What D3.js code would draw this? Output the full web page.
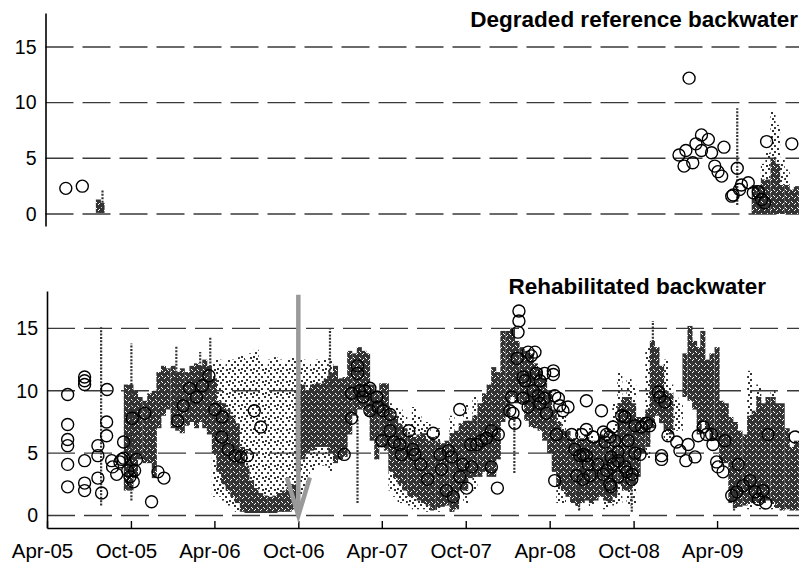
<!DOCTYPE html>
<html>
<head>
<meta charset="utf-8">
<script src="https://cdn.jsdelivr.net/npm/d3@7"></script>
<style>
  body { margin: 0; background: #fff; }
  svg { display: block; font-family: Arial, "Liberation Sans", sans-serif; }
</style>
</head>
<body>
<div id="chart"></div>
<script>
// ---- data ----
const yTicks = [0, 5, 10, 15];
const xTicks = ["2005-04-01", "2005-10-01", "2006-04-01", "2006-10-01", "2007-04-01",
                "2007-10-01", "2008-04-01", "2008-10-01", "2009-04-01"];

// discrete samples (open circles), [date, value]
const refCircles = [
  ["2005-05-12",2.3],["2005-06-17",2.5],
  ["2009-01-30",12.2],["2009-01-08",5.3],["2009-01-19",4.3],["2009-01-23",5.7],["2009-02-07",4.6],
  ["2009-02-14",6.3],["2009-02-26",7.1],["2009-03-13",6.7],["2009-02-26",5.7],["2009-03-20",5.5],
  ["2009-04-16",6.0],["2009-03-27",4.3],["2009-04-03",3.8],["2009-04-11",3.4],["2009-05-15",4.1],
  ["2009-05-03",1.6],["2009-05-06",1.7],["2009-05-20",2.2],["2009-05-24",2.6],["2009-06-08",2.8],
  ["2009-06-19",1.9],["2009-06-30",2.0],["2009-07-07",1.3],["2009-07-14",1.0],["2009-07-18",6.5],
  ["2009-09-11",6.3]
];

// continuous logger, dense parts: [date, low, high] per ~10 day window
const refLogger = [
  ["2005-07-22",0.1,1.3],["2005-07-30",0.1,1.0],
  ["2009-06-21",0,2.6],["2009-07-01",0,2.6],["2009-07-11",0,3.1],["2009-07-21",0,3.1],
  ["2009-08-01",0,5.0],["2009-08-11",0,4.5],["2009-08-21",0,2.6],["2009-09-01",0,2.6],
  ["2009-09-11",0,2.2],["2009-09-21",0,2.5]
];
// logger, scattered parts
const refSparse = [
  ["2009-07-11",2.5,4.5],["2009-07-21",2.5,5.5],["2009-08-01",4.5,9.2],["2009-08-11",4.0,8.0],
  ["2009-08-21",2.5,5.0],["2009-09-01",2.5,4.0]
];
// logger, single-day columns
const refSpikes = [
  ["2005-07-31",0.1,2.2],["2009-05-15",0.8,9.5]
];

const rehabCircles = [
  ["2005-05-16",9.7],["2005-05-16",7.3],["2005-05-16",6.1],["2005-05-16",5.6],["2005-05-16",4.1],["2005-05-16",2.3],
  ["2005-06-22",11.1],["2005-06-22",10.8],["2005-06-22",10.5],["2005-06-22",4.4],["2005-06-22",2.6],["2005-06-22",2.0],
  ["2005-07-21",5.6],["2005-07-21",4.8],["2005-07-21",3.0],["2005-07-29",1.8],
  ["2005-08-10",10.1],["2005-08-09",7.5],["2005-08-09",6.4],
  ["2005-08-20",4.4],["2005-08-22",3.9],["2005-08-31",3.3],["2005-09-07",4.3],["2005-09-11",4.5],["2005-09-15",4.6],
  ["2005-09-15",5.9],["2005-09-24",3.6],["2005-09-29",3.1],["2005-10-06",2.7],["2005-10-09",3.6],["2005-10-13",4.5],
  ["2005-10-04",7.8],["2005-10-31",8.2],["2005-11-15",1.1],["2005-11-29",3.5],["2005-12-12",3.0],
  ["2006-01-11",7.6],["2006-01-23",8.8],["2006-02-06",10.2],["2006-02-21",9.5],["2006-03-06",10.4],["2006-03-20",11.2],
  ["2006-04-02",8.5],["2006-04-18",7.9],["2006-04-17",6.3],["2006-05-01",5.3],["2006-05-16",4.8],["2006-05-29",4.7],
  ["2006-06-12",4.8],["2006-06-27",8.4],["2006-07-11",7.1],
  ["2007-01-09",4.9],["2007-01-25",7.8],["2007-01-25",9.8],["2007-02-07",12.0],["2007-02-07",11.4],["2007-02-12",10.0],
  ["2007-02-23",10.0],["2007-03-06",10.2],["2007-02-19",9.5],["2007-03-06",8.4],["2007-03-21",9.5],["2007-03-24",8.7],
  ["2007-04-04",8.4],["2007-04-19",8.1],["2007-04-19",6.8],["2007-04-01",6.0],["2007-04-28",5.9],["2007-05-10",5.7],
  ["2007-05-14",4.9],["2007-05-30",6.8],["2007-06-08",5.3],["2007-06-12",4.9],["2007-06-25",4.1],["2007-07-10",2.9],
  ["2007-07-22",6.6],["2007-08-06",4.9],["2007-08-09",3.7],["2007-08-20",2.0],["2007-09-04",1.5],["2007-08-24",5.2],
  ["2007-08-31",4.7],["2007-09-18",8.5],["2007-09-18",3.1],["2007-09-25",4.1],["2007-10-03",2.2],["2007-10-14",3.9],
  ["2007-10-12",5.7],["2007-10-25",5.7],["2007-11-04",6.0],["2007-11-15",6.2],["2007-11-26",6.8],["2007-12-11",6.5],
  ["2007-11-26",3.9],["2007-12-09",2.2],
  ["2008-01-09",9.5],["2008-01-05",8.4],["2008-01-12",8.2],["2008-01-16",7.4],["2008-01-25",16.4],["2008-01-25",15.6],
  ["2008-01-23",14.7],["2008-01-21",12.6],["2008-02-14",13.1],["2008-02-21",12.8],["2008-02-29",13.1],["2008-02-03",11.1],
  ["2008-02-07",10.8],["2008-03-03",11.4],["2008-03-11",10.8],["2008-04-09",11.6],["2008-04-09",11.3],["2008-03-21",11.4],
  ["2008-02-03",9.4],["2008-02-14",8.7],["2008-02-25",10.0],["2008-03-07",9.6],["2008-03-11",9.0],["2008-03-21",9.4],
  ["2008-03-25",8.2],["2008-04-12",9.6],["2008-04-20",9.4],["2008-04-23",8.8],["2008-04-30",8.4],["2008-04-12",2.8],
  ["2008-04-16",6.5],["2008-05-11",8.7],["2008-05-19",6.5],["2008-06-10",6.5],["2008-06-20",6.9],["2008-07-05",6.3],
  ["2008-07-27",6.7],["2008-06-20",9.2],["2008-07-23",8.4],["2008-05-26",5.3],["2008-06-06",4.8],["2008-06-20",4.8],
  ["2008-06-24",4.1],["2008-05-30",3.2],["2008-06-13",2.9],["2008-06-28",3.2],["2008-07-27",3.3],["2008-08-10",2.5],
  ["2008-06-13",4.9],["2008-07-15",4.1],["2008-08-13",4.7],["2008-08-28",4.4],["2008-08-13",2.3],["2008-07-31",5.9],
  ["2008-08-10",6.3],["2008-08-03",6.5],["2008-08-17",7.1],["2008-09-12",7.9],["2008-08-21",6.0],["2008-08-28",5.1],
  ["2008-08-17",4.1],["2008-08-03",3.6],["2008-08-28",3.1],["2008-09-16",3.5],["2008-09-27",2.9],["2008-10-15",4.9],
  ["2008-10-04",7.2],["2008-10-18",7.1],["2008-10-29",7.4],["2008-11-05",7.2],["2008-09-05",8.0],["2008-09-19",6.0],
  ["2008-10-04",5.0],["2008-09-12",3.9],["2008-09-28",3.3],
  ["2008-11-24",9.9],["2008-11-27",9.5],["2008-12-08",9.1],["2008-12-01",4.8],["2008-12-01",4.5],["2008-12-15",6.4],
  ["2009-01-03",5.9],["2009-01-10",5.2],["2009-01-28",5.7],["2009-01-23",4.4],["2009-02-12",4.7],["2009-02-19",6.4],
  ["2009-03-02",7.1],["2009-03-09",6.5],["2009-03-20",6.5],["2009-03-23",5.7],["2009-04-18",6.0],["2009-03-31",4.3],
  ["2009-04-03",3.9],["2009-04-14",3.5],["2009-05-17",4.1],["2009-05-03",1.6],["2009-05-14",1.9],["2009-05-28",2.4],
  ["2009-06-12",2.8],["2009-06-23",1.9],["2009-06-30",1.3],["2009-07-10",2.0],["2009-07-16",1.0],["2009-07-21",6.5],
  ["2009-09-18",6.3]
];

const rehabLogger = [
  ["2005-09-21",2.0,10.5],["2005-10-01",2.0,10.5],["2005-10-11",3.0,10.0],["2005-10-21",4.5,9.5],
  ["2005-11-01",4.2,9.2],["2005-11-11",4.2,9.8],["2005-11-21",3.0,10.0],
  ["2005-12-01",7.0,11.5],["2005-12-11",8.0,12.0],["2005-12-21",8.5,11.8],
  ["2006-01-01",7.0,12.0],["2006-01-11",6.8,11.5],["2006-01-21",6.6,11.8],
  ["2006-02-01",7.2,11.5],["2006-02-11",7.5,12.0],["2006-02-21",7.0,12.2],
  ["2006-03-01",7.5,12.0],["2006-03-11",7.0,12.5],["2006-03-21",6.5,12.0],
  ["2006-04-01",5.0,11.0],["2006-04-11",3.5,9.2],["2006-04-21",2.5,9.0],
  ["2006-05-01",2.0,8.5],["2006-05-11",1.5,8.0],["2006-05-21",1.0,7.4],
  ["2006-06-01",0.3,5.5],["2006-06-11",0.2,4.0],["2006-06-21",0.2,2.8],
  ["2006-07-01",0.2,2.2],["2006-07-11",0.2,1.8],["2006-07-21",0.2,1.6],
  ["2006-08-01",0.2,1.5],["2006-08-11",0.2,1.6],["2006-08-21",0.3,1.8],
  ["2006-09-01",0.3,2.0],["2006-09-11",0.3,2.3],["2006-09-21",0.5,2.5],
  ["2006-10-01",3.5,10.0],["2006-10-11",4.5,10.5],["2006-10-21",5.0,10.0],
  ["2006-11-01",5.2,10.5],["2006-11-11",5.5,10.6],["2006-11-21",5.5,10.6],
  ["2006-12-01",5.5,11.0],["2006-12-11",5.0,11.5],["2006-12-21",4.2,12.0],
  ["2007-01-01",4.5,11.0],["2007-01-11",4.7,11.1],["2007-01-21",6.5,13.2],
  ["2007-02-01",8.0,13.0],["2007-02-11",8.5,13.5],["2007-02-21",8.5,13.2],
  ["2007-03-01",8.0,13.0],["2007-03-11",6.0,10.5],["2007-03-21",4.5,10.0],
  ["2007-04-01",5.5,10.6],["2007-04-11",5.2,10.6],["2007-04-21",3.5,8.4],
  ["2007-05-01",3.0,8.0],["2007-05-11",2.5,7.4],["2007-05-21",2.0,7.0],
  ["2007-06-01",1.5,6.5],["2007-06-11",1.5,6.3],["2007-06-21",1.2,6.5],
  ["2007-07-01",1.0,6.6],["2007-07-11",0.8,6.0],["2007-07-21",0.4,6.3],
  ["2007-08-01",0.6,6.0],["2007-08-11",0.7,5.8],["2007-08-21",0.8,6.0],
  ["2007-09-01",0.3,6.6],["2007-09-11",0.5,6.8],["2007-09-21",2.0,7.4],
  ["2007-10-01",2.0,7.6],["2007-10-11",3.0,7.6],["2007-10-21",3.1,8.0],
  ["2007-11-01",3.1,9.0],["2007-11-11",3.5,9.8],["2007-11-21",3.1,10.5],
  ["2007-12-01",3.1,11.9],["2007-12-11",4.5,11.5],["2007-12-21",7.5,14.8],
  ["2008-01-01",7.9,14.8],["2008-01-11",9.5,15.0],["2008-01-21",9.0,14.0],
  ["2008-02-01",9.0,13.5],["2008-02-11",7.6,13.2],["2008-02-21",7.1,13.0],
  ["2008-03-01",7.0,12.2],["2008-03-11",6.8,11.8],["2008-03-21",6.0,11.0],
  ["2008-04-01",5.0,10.0],["2008-04-11",3.5,8.5],["2008-04-21",2.3,7.5],
  ["2008-05-01",2.0,6.8],["2008-05-11",1.5,6.8],["2008-05-21",1.0,6.2],
  ["2008-06-01",0.8,6.0],["2008-06-11",1.0,6.2],["2008-06-21",1.2,6.5],
  ["2008-07-01",1.0,6.0],["2008-07-11",1.2,6.0],["2008-07-21",1.5,6.5],
  ["2008-08-01",1.2,6.0],["2008-08-11",1.0,5.5],["2008-08-21",1.5,6.5],
  ["2008-09-01",2.5,9.0],["2008-09-11",2.0,9.5],["2008-09-21",2.0,9.5],
  ["2008-10-01",2.5,9.0],["2008-10-11",3.1,7.9],["2008-10-21",5.0,7.9],
  ["2008-11-01",5.5,8.5],["2008-11-11",7.0,14.0],["2008-11-21",8.0,13.5],
  ["2008-12-01",7.4,12.0],["2008-12-11",6.8,10.0],["2008-12-21",6.5,9.8],
  ["2009-01-21",9.5,13.0],["2009-02-01",9.2,15.2],["2009-02-11",8.5,14.0],["2009-02-21",6.5,13.5],
  ["2009-03-01",7.5,14.8],["2009-03-11",7.0,12.5],["2009-03-21",6.0,13.0],
  ["2009-04-01",6.0,13.5],["2009-04-11",4.2,9.2],["2009-04-21",4.2,9.0],
  ["2009-05-01",1.0,7.9],["2009-05-11",0.6,7.5],["2009-05-21",0.7,6.8],
  ["2009-06-01",0.8,6.5],["2009-06-11",1.0,8.0],["2009-06-21",1.0,8.4],
  ["2009-07-01",1.0,9.5],["2009-07-11",1.0,9.0],["2009-07-21",1.2,9.5],
  ["2009-08-01",1.0,9.5],["2009-08-11",0.6,9.0],["2009-08-21",0.4,9.0],
  ["2009-09-01",0.5,7.0],["2009-09-11",0.4,5.5],["2009-09-21",0.4,6.0]
];

const rehabSparse = [
  ["2006-04-01",1.5,12.5],["2006-04-11",1.5,12.5],["2006-04-21",1.2,12.0],
  ["2006-05-01",0.8,12.5],["2006-05-11",0.6,12.5],["2006-05-21",0.3,12.7],
  ["2006-06-01",0.3,12.8],["2006-06-11",0.3,12.5],["2006-06-21",0.3,13.0],
  ["2006-07-01",0.3,13.3],["2006-07-11",0.3,12.5],["2006-07-21",0.3,12.0],
  ["2006-08-01",0.3,12.5],["2006-08-11",0.3,12.7],["2006-08-21",0.3,12.5],
  ["2006-09-01",0.3,12.2],["2006-09-11",0.3,12.5],["2006-09-21",0.4,12.7],
  ["2006-10-01",0.8,12.5],["2006-10-11",1.5,12.5],["2006-10-21",2.5,12.0],
  ["2006-11-01",3.5,12.2],["2006-11-11",4.0,12.5],["2006-11-21",4.0,12.5],
  ["2006-12-01",4.0,12.5],["2006-12-11",3.5,12.7],
  ["2007-04-21",2.0,9.0],["2007-05-01",1.5,8.7],["2007-05-11",1.0,8.5],["2007-05-21",1.0,8.0],
  ["2007-06-01",0.8,7.5],["2007-06-11",0.5,8.7],["2007-06-21",0.5,8.0],["2007-07-01",0.5,7.5],
  ["2007-07-11",0.3,7.5],["2007-08-01",0.3,7.0],["2007-09-01",0.3,8.0],["2007-10-01",1.0,9.0],
  ["2007-10-21",2.0,9.5],
  ["2008-04-21",1.0,8.5],["2008-05-01",1.0,8.0],["2008-06-01",0.5,7.0],["2008-07-01",0.6,7.2],
  ["2008-08-01",0.5,7.0],["2008-08-21",0.8,9.0],["2008-09-01",1.0,11.5],["2008-09-21",0.8,11.0],
  ["2008-10-01",1.0,10.5],["2008-11-01",4.5,13.5],["2008-12-11",6.0,12.5],["2008-12-21",6.2,10.5],
  ["2009-01-01",6.8,9.5],["2009-01-11",6.8,9.0],
  ["2009-06-11",0.5,11.6],["2009-07-01",0.5,10.5],["2009-08-01",0.5,10.0]
];

const rehabSpikes = [
  ["2005-07-28",0.8,15.1],["2005-10-02",1.2,13.8],["2006-01-08",9.0,13.6],["2006-03-01",10.0,13.1],
  ["2006-03-23",10.0,14.3],["2006-12-09",10.0,15.0],["2007-02-07",1.0,8.0],["2008-01-15",3.4,8.0],
  ["2008-06-04",0.4,3.0],["2008-09-27",0.3,5.0],["2008-11-12",12.0,15.6],["2009-05-08",0.4,3.0]
];

// arrow marking the rehabilitation date
const arrowDate = "2006-10-01", arrowTop = 17.7, arrowTip = 0;

// ---- drawing ----
const W = 799, H = 563;
const parse = d3.timeParse("%Y-%m-%d");
const ink = "#333";

const svg = d3.select("#chart").append("svg")
  .attr("width", W).attr("height", H);

const defs = svg.append("defs");
// dense logger texture: nearly solid, small speckles
const densePat = defs.append("pattern").attr("id", "densePat")
  .attr("patternUnits", "userSpaceOnUse").attr("width", 6).attr("height", 6);
densePat.append("rect").attr("width", 6).attr("height", 6).attr("fill", ink);
[[2, 0], [5, 3], [0, 4], [3, 5]].forEach(([px, py]) =>
  densePat.append("rect").attr("x", px).attr("y", py).attr("width", 1).attr("height", 1).attr("fill", "#fff"));

// scattered logger texture: irregular dots
const sparsePat = defs.append("pattern").attr("id", "sparsePat")
  .attr("patternUnits", "userSpaceOnUse").attr("width", 12).attr("height", 12);
[[0, 0], [6, 1], [3, 4], [9, 4], [1, 8], [6, 7], [10, 9], [4, 10]].forEach(([px, py]) =>
  sparsePat.append("rect").attr("x", px).attr("y", py).attr("width", 2).attr("height", 2).attr("fill", ink));

const x = d3.scaleTime()
  .domain([parse("2005-04-01"), parse("2009-10-01")])
  .range([47, 801]);

const panels = [
  { id: "ref", title: "Degraded reference backwater", titleX: 798, titleY: 27, axisX: 45.5,
    y: d3.scaleLinear().domain([-1.08, 18.05]).range([226, 13]),
    circles: refCircles, dense: refLogger, sparse: refSparse, spikes: refSpikes, xAxis: false },
  { id: "rehab", title: "Rehabilitated backwater", titleX: 766, titleY: 294, axisX: 47,
    y: d3.scaleLinear().domain([-1.0, 18.0]).range([528, 291]),
    circles: rehabCircles, dense: rehabLogger, sparse: rehabSparse, spikes: rehabSpikes, xAxis: true }
];

function binRect(sel, y) {
  sel.attr("x", d => x(d3.timeHour.offset(parse(d[0]), -132)))
    .attr("width", d => x(d3.timeHour.offset(parse(d[0]), 132)) - x(d3.timeHour.offset(parse(d[0]), -132)))
    .attr("y", d => y(d[2]))
    .attr("height", d => y(d[1]) - y(d[2]));
}

panels.forEach(p => {
  const y = p.y;
  const g = svg.append("g").attr("class", "panel-" + p.id);
  const [yb, yt] = y.range();

  defs.append("clipPath").attr("id", "clip-" + p.id)
    .append("rect").attr("x", p.axisX).attr("y", yt).attr("width", W - p.axisX).attr("height", yb - yt);

  // dashed gridlines
  g.selectAll("line.grid").data(yTicks).enter().append("line")
    .attr("class", "grid")
    .attr("x1", p.axisX).attr("x2", W)
    .attr("y1", d => y(d)).attr("y2", d => y(d))
    .attr("stroke", "#3a3a3a").attr("stroke-width", 1.4)
    .attr("stroke-dasharray", "28,9");

  const data = g.append("g").attr("clip-path", "url(#clip-" + p.id + ")");

  data.selectAll("rect.sparse").data(p.sparse).enter().append("rect")
    .attr("class", "sparse").call(binRect, y).attr("fill", "url(#sparsePat)");

  data.selectAll("rect.dense").data(p.dense).enter().append("rect")
    .attr("class", "dense").call(binRect, y).attr("fill", "url(#densePat)");

  data.selectAll("line.spike").data(p.spikes).enter().append("line")
    .attr("class", "spike")
    .attr("x1", d => x(parse(d[0]))).attr("x2", d => x(parse(d[0])))
    .attr("y1", d => y(d[1])).attr("y2", d => y(d[2]))
    .attr("stroke", ink).attr("stroke-width", 2.2).attr("stroke-dasharray", "2,1.4");

  data.selectAll("circle").data(p.circles).enter().append("circle")
    .attr("cx", d => x(parse(d[0])))
    .attr("cy", d => y(d[1]))
    .attr("r", 6)
    .attr("fill", "none")
    .attr("stroke", "#000")
    .attr("stroke-width", 1.4);

  // y axis
  const yAxis = g.append("g").attr("transform", `translate(${p.axisX},0)`)
    .call(d3.axisLeft(y).tickValues(yTicks).tickSize(0).tickSizeOuter(0).tickPadding(9));
  yAxis.select(".domain").attr("stroke", "#000").attr("stroke-width", 1.6);
  yAxis.selectAll("text").attr("font-size", 19.5).attr("fill", "#000")
    .attr("font-family", "Arial, 'Liberation Sans', sans-serif");

  if (p.xAxis) {
    const xAxis = g.append("g").attr("transform", `translate(0,${yb})`)
      .call(d3.axisBottom(x).tickValues(xTicks.map(parse))
        .tickSizeInner(-7).tickSizeOuter(0).tickPadding(15)
        .tickFormat(d3.timeFormat("%b-%y")));
    xAxis.select(".domain").attr("stroke", "#000").attr("stroke-width", 1.6);
    xAxis.selectAll(".tick line").attr("stroke", "#000").attr("stroke-width", 1.4);
    xAxis.selectAll("text").attr("font-size", 20.5).attr("fill", "#000").attr("dx", -5)
      .attr("font-family", "Arial, 'Liberation Sans', sans-serif");
  }

  g.append("text")
    .attr("x", p.titleX).attr("y", p.titleY)
    .attr("text-anchor", "end")
    .attr("font-size", 22.5).attr("font-weight", "bold")
    .text(p.title);
});

// arrow on the rehabilitated panel
const yr = panels[1].y;
const ax = x(parse(arrowDate));
const arrow = svg.append("g").attr("stroke", "#9a9a9a").attr("stroke-width", 4.5).attr("fill", "none");
arrow.append("line").attr("x1", ax).attr("x2", ax).attr("y1", yr(arrowTop)).attr("y2", yr(arrowTip) - 2);
arrow.append("polyline")
  .attr("points", [[ax - 11.5, yr(arrowTip) - 38], [ax, yr(arrowTip)], [ax + 11.5, yr(arrowTip) - 38]].map(d => d.join(",")).join(" "))
  .attr("stroke-linejoin", "miter");
</script>
</body>
</html>
